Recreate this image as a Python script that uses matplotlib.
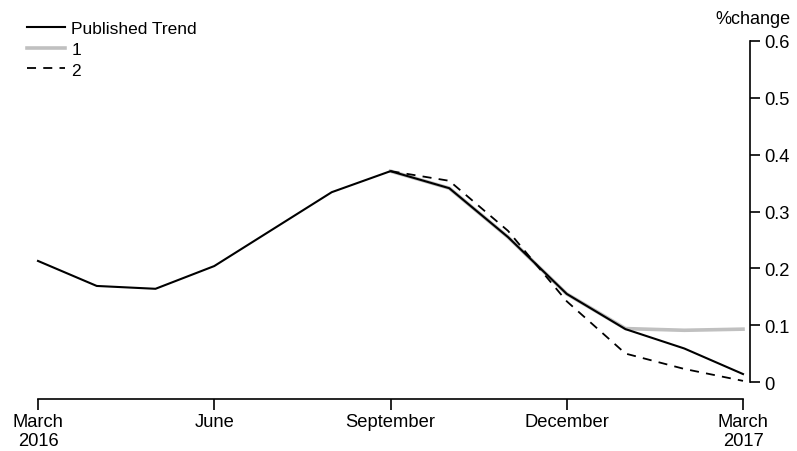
import matplotlib
matplotlib.use("Agg")
import matplotlib.pyplot as plt

plt.rcParams['font.family'] = ['Liberation Sans', 'DejaVu Sans']

months = list(range(13))  # March 2016 .. March 2017
published = [0.213, 0.169, 0.164, 0.204, 0.269, 0.334, 0.371, 0.341, 0.255,
             0.155, 0.093, 0.059, 0.014]
# series 1 and 2 start at September (index 6)
s1_x = months[6:]
s1 = [0.371, 0.341, 0.255, 0.155, 0.094, 0.091, 0.093]
s2_x = months[6:]
s2 = [0.371, 0.354, 0.266, 0.142, 0.050, 0.023, 0.002]

tick_pos = [0, 3, 6, 9, 12]
tick_lab = ["March\n2016", "June", "September", "December", "March\n2017"]
y_ticks = [0, 0.1, 0.2, 0.3, 0.4, 0.5, 0.6]
y_labs = ["0", "0.1", "0.2", "0.3", "0.4", "0.5", "0.6"]

fig = plt.figure(figsize=(7.97, 4.52), dpi=100)
ax = fig.add_axes([38/797, 1-383/452, (743-38)/797, (383-42)/452])

ax.plot(s1_x, s1, color="#c0c0c0", lw=2.6, label="1", clip_on=False, zorder=2)
ax.plot(months, published, color="black", lw=1.5, label="Published Trend",
        clip_on=False, zorder=3)
ax.plot(s2_x, s2, color="black", lw=1.3, ls=(0, (5, 4)), label="2",
        clip_on=False, zorder=4)

ax.set_xlim(0, 12)
ax.set_ylim(0, 0.6)

for s in ["top", "left"]:
    ax.spines[s].set_visible(False)
ax.spines["bottom"].set_position(("outward", 12))
ax.spines["right"].set_position(("outward", 5))
ax.spines["right"].set_bounds(0, 0.6)
for s in ["bottom", "right"]:
    ax.spines[s].set_linewidth(1.2)

ax.yaxis.tick_right()
ax.set_yticks(y_ticks)
ax.set_yticklabels(y_labs)
ax.set_xticks(tick_pos)
ax.set_xticklabels(tick_lab, linespacing=1.15)
ax.tick_params(axis="y", direction="out", length=7, width=1.2, pad=3,
               labelsize=13.2)
ax.tick_params(axis="x", direction="out", length=8, width=1.2, pad=2,
               labelsize=13.2)

fig.text(791/797, 1-19/452, "%change", ha="right", va="center", fontsize=13)

handles, labels = ax.get_legend_handles_labels()
order = [1, 0, 2]
leg = fig.legend([handles[i] for i in order], [labels[i] for i in order],
                 loc="upper left", bbox_to_anchor=(27/797, 1-22/452),
                 frameon=False, fontsize=12.5, handlelength=2.2,
                 handletextpad=0.35, labelspacing=0.32, borderaxespad=0,
                 borderpad=0)

fig.savefig("out.png", dpi=100)
